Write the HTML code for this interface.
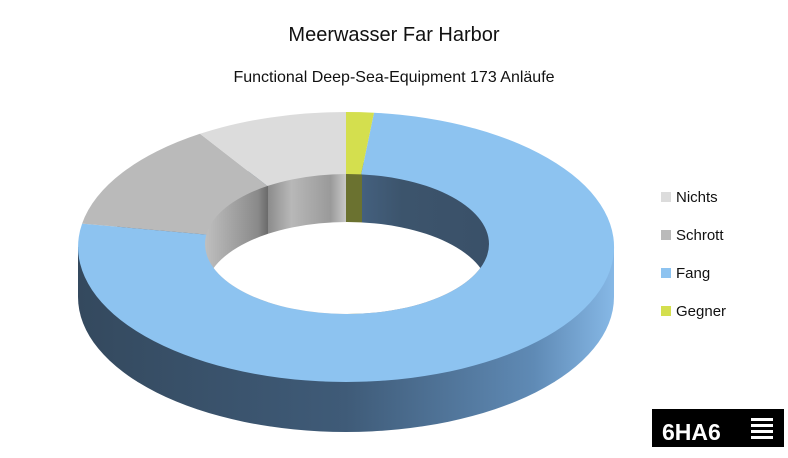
<!DOCTYPE html>
<html><head><meta charset="utf-8"><style>
body{margin:0;width:788px;height:453px;background:#fff;overflow:hidden;font-family:"Liberation Sans",sans-serif}
</style></head><body>
<svg width="788" height="453" xmlns="http://www.w3.org/2000/svg">
<defs>
<linearGradient id="side" x1="0" x2="1" y1="0" y2="0">
<stop offset="0" stop-color="#34495e"/><stop offset="0.5" stop-color="#3f5b78"/><stop offset="0.85" stop-color="#5f8ab5"/><stop offset="1" stop-color="#86b8e6"/>
</linearGradient>
<linearGradient id="g1" x1="0" x2="1"><stop offset="0" stop-color="#c4c4c4"/><stop offset="0.85" stop-color="#8a8a8a"/><stop offset="1" stop-color="#6a6a6a"/></linearGradient>
<linearGradient id="g2" x1="0" x2="1"><stop offset="0" stop-color="#8c8c8c"/><stop offset="0.3" stop-color="#b8b8b8"/><stop offset="0.8" stop-color="#9a9a9a"/><stop offset="1" stop-color="#c8c8c8"/></linearGradient>
<linearGradient id="g3" x1="0" x2="1"><stop offset="0" stop-color="#44607e"/><stop offset="0.3" stop-color="#3c546c"/><stop offset="1" stop-color="#3a5068"/></linearGradient>
<clipPath id="hole"><ellipse cx="347" cy="244" rx="142" ry="70"/></clipPath>
</defs>
<text x="394" y="41" font-size="20" text-anchor="middle" fill="#111">Meerwasser Far Harbor</text>
<text x="394" y="82" font-size="16" text-anchor="middle" fill="#111">Functional Deep-Sea-Equipment 173 Anläufe</text>
<!-- outer wall -->
<ellipse cx="346" cy="297" rx="268" ry="135" fill="url(#side)"/>
<rect x="78" y="247" width="536" height="50" fill="url(#side)"/>
<!-- top face -->
<path d="M346,247 L374,112.7 A268,135 0 1 1 82.1,223.6 Z" fill="#8dc3f0"/>
<path d="M346,247 L82.1,223.6 A268,135 0 0 1 200,133.8 Z" fill="#bababa"/>
<path d="M346,247 L200,133.8 A268,135 0 0 1 346,112 Z" fill="#dcdcdc"/>
<path d="M346,247 L346,112 A268,135 0 0 1 374,112.7 Z" fill="#d4df4e"/>
<!-- hole -->
<g clip-path="url(#hole)">
<rect x="200" y="170" width="68" height="150" fill="url(#g1)"/>
<rect x="268" y="170" width="78" height="150" fill="url(#g2)"/>
<rect x="346" y="170" width="16" height="150" fill="#6b7230"/>
<rect x="362" y="170" width="135" height="150" fill="url(#g3)"/>
<ellipse cx="347" cy="292" rx="142" ry="70" fill="#fff"/>
</g>
<!-- legend -->
<g font-size="15" fill="#111">
<rect x="661" y="192" width="10" height="10" fill="#dcdcdc"/><text x="676" y="202">Nichts</text>
<rect x="661" y="230" width="10" height="10" fill="#bababa"/><text x="676" y="240">Schrott</text>
<rect x="661" y="268" width="10" height="10" fill="#8dc3f0"/><text x="676" y="278">Fang</text>
<rect x="661" y="306" width="10" height="10" fill="#d4df4e"/><text x="676" y="316">Gegner</text>
</g>
<rect x="652" y="409" width="132" height="38" fill="#000"/>
<text x="662" y="440" font-size="23" font-weight="bold" fill="#fff">6HA6</text>
<g fill="#fff"><rect x="751" y="418" width="22" height="3"/><rect x="751" y="424" width="22" height="3"/><rect x="751" y="430" width="22" height="3"/><rect x="751" y="436" width="22" height="3"/></g>
</svg>
</body></html>
